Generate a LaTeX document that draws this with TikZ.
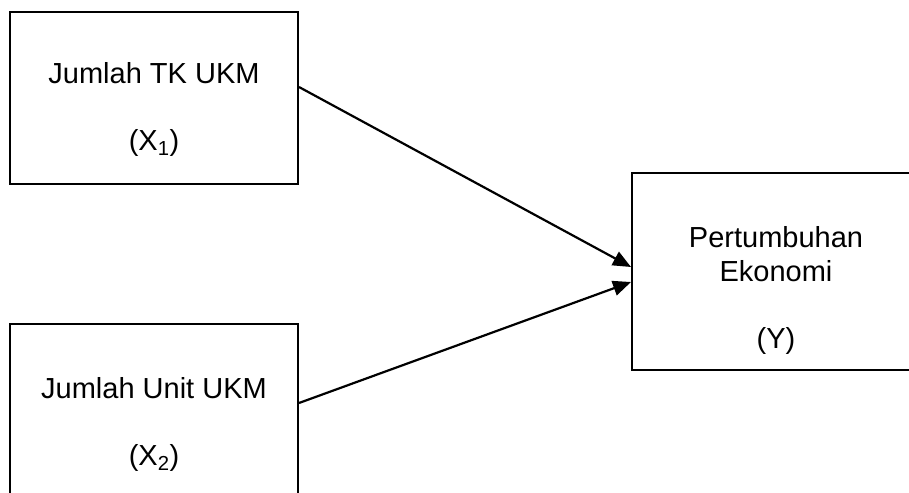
\documentclass[tikz,border=0pt]{standalone}
\usepackage{fontspec}
\setmainfont{Liberation Sans}
\usetikzlibrary{arrows.meta, positioning}

\begin{document}
\begin{tikzpicture}[x=1pt, y=-1pt,
    box/.style={draw, line width=2pt, minimum width=288pt, inner sep=0pt},
    lbl/.style={align=center, anchor=base, font=\fontsize{29}{33.5}\selectfont},
    conn/.style={line width=2.2pt, -{Triangle[length=18pt,width=15pt]}}]
  \useasboundingbox (0,0) rectangle (909,492);
  \clip (0,0) rectangle (909,492);
  % frames
  \node[box, minimum height=172pt] (tk) at (154,98) {};
  \node[box, minimum height=172pt] (unit) at (154,410) {};
  \node[box, minimum height=197pt] (growth) at (776,271.5) {};
  % texts (base = last line)
  \node[lbl] (tklabel) at (154,150) {Jumlah TK UKM\\[33.5pt](X\textsubscript{1})};
  \node[lbl] (unitlabel) at (154,465) {Jumlah Unit UKM\\[33.5pt](X\textsubscript{2})};
  \node[lbl] (growthlabel) at (776,348) {Pertumbuhan\\Ekonomi\\[33.5pt](Y)};
  % connectors
  \draw[conn] ([yshift=11pt]tk.east) -- ([yshift=4.5pt]growth.west);
  \draw[conn] ([yshift=7pt]unit.east) -- ([yshift=-10.5pt]growth.west);
\end{tikzpicture}
\end{document}
